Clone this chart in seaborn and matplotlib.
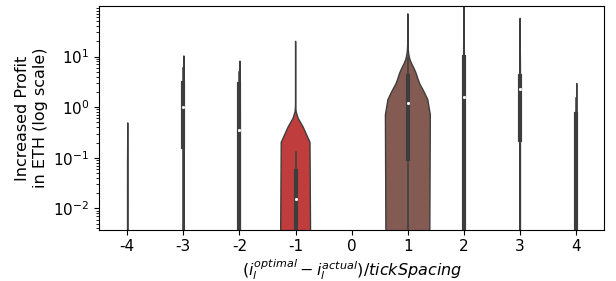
import numpy as np
import pandas as pd
import seaborn as sns
import matplotlib.pyplot as plt

# bins of (i_optimal - i_actual) / tickSpacing
order = ["-4", "-3", "-2", "-1", "0", "1", "2", "3", "4"]

# increased profit in ETH, one value per position
prof_m4 = [0.0001, 0.0001, 0.0001, 0.0001, 0.5]
prof_m3 = [0.0002, 0.05, 0.16, 0.5, 1.0, 2.0, 3.0, 6.0, 10.5]
prof_m2 = [0.0001, 0.0002, 0.001, 0.1, 0.36, 1.0, 2.9, 5.0, 8.3]
prof_p2 = [0.0001, 0.0005, 0.002, 0.3, 1.6, 4.0, 10.0, 40.0, 150.0]
prof_p3 = [0.0001, 0.05, 0.22, 1.0, 2.3, 3.0, 4.2, 8.0, 57.0]
prof_p4 = [0.0001, 0.0001, 0.0002, 0.0005, 0.001, 0.1, 0.72, 1.5, 3.0]

# the two big bins, given as profit value -> number of positions
prof_m1 = [1e-9, 0.002, 0.008, 0.015, 0.03, 0.055, 0.09, 0.13,
           0.3, 1.0, 3.0, 10.0, 14.0, 20.0]
n_m1 = [92, 46, 69, 46, 58, 46, 35, 23,
        3, 2, 2, 1, 1, 1]
prof_p1 = [1e-9, 0.003, 0.02, 0.06, 0.105, 0.4, 0.7, 0.95, 1.1, 1.2,
           1.5, 2.0, 2.5, 3.0, 3.5, 3.9, 4.2,
           4.8, 5.5, 6.3, 7.2, 8.2, 9.3, 10.5, 12, 14,
           17, 21, 26, 32, 40, 50, 60, 70]
n_p1 = [60, 30, 25, 25, 15, 25, 35, 35, 29, 26,
        12, 16, 20, 22, 22, 22, 16,
        22, 23, 20, 14, 11, 8, 6, 5, 4,
        3, 2, 2, 1, 1, 1, 1, 1]

groups = {
    "-4": prof_m4, "-3": prof_m3, "-2": prof_m2,
    "-1": np.repeat(prof_m1, n_m1), "1": np.repeat(prof_p1, n_p1),
    "2": prof_p2, "3": prof_p3, "4": prof_p4,
}
df = pd.concat([pd.DataFrame({"bin": k, "profit": v}) for k, v in groups.items()],
               ignore_index=True)

fig = plt.figure(figsize=(6.16, 2.81), dpi=100)
ax = fig.add_axes([0.161, 0.183, 0.82, 0.794])

sns.violinplot(data=df, x="bin", y="profit", hue="bin", order=order, hue_order=order,
               palette="tab10", density_norm="count", common_norm=True, cut=0,
               bw_adjust=0.75, linewidth=1, legend=False, ax=ax,
               inner_kws=dict(box_width=3, whis_width=1.1, marker="o", markersize=1.6))
ax.set_yscale("log")
ax.set_ylim(0.0038, 98)

ax.set_xlabel(r"$(i_l^{optimal} - i_l^{actual})/tickSpacing$", fontsize=11.5, labelpad=2)
ax.set_ylabel("Increased Profit\nin ETH (log scale)", fontsize=11.5)
ax.tick_params(labelsize=11)

fig.savefig("out.png", dpi=100)
